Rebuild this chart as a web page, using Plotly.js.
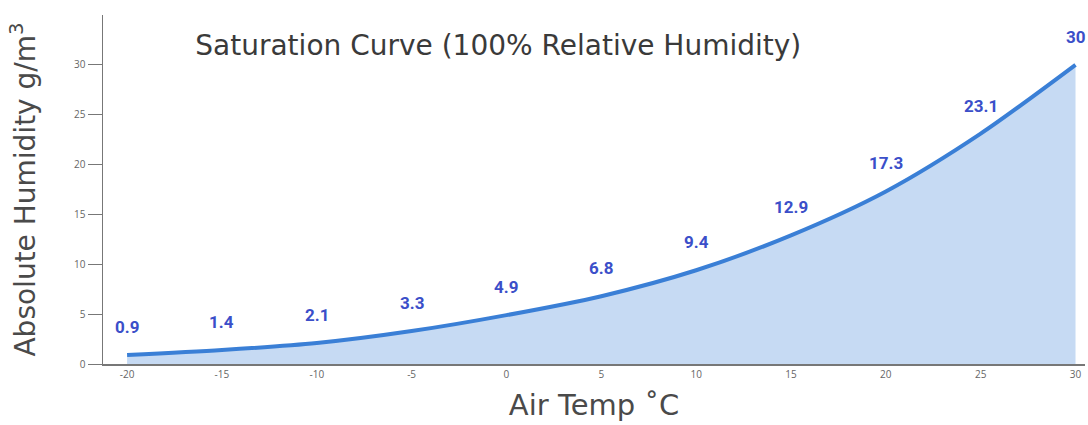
<!DOCTYPE html>
<html>
<head>
<meta charset="utf-8">
<script src="https://cdn.plot.ly/plotly-3.0.1.min.js"></script>
<style>html,body{margin:0;padding:0;background:#fff;}#chart{width:1088px;height:425px;}</style>
</head>
<body>
<div id="chart"></div>
<script>
const temps = [-20, -15, -10, -5, 0, 5, 10, 15, 20, 25, 30];
const humidity = [0.9, 1.4, 2.1, 3.3, 4.9, 6.8, 9.4, 12.9, 17.3, 23.1, 30];
const labels = ["0.9", "1.4", "2.1", "3.3", "4.9", "6.8", "9.4", "12.9", "17.3", "23.1", "30"];
const xTicks = [-20, -15, -10, -5, 0, 5, 10, 15, 20, 25, 30];
const yTicks = [0, 5, 10, 15, 20, 25, 30];

const trace = {
  x: temps,
  y: humidity,
  type: 'scatter',
  mode: 'lines',
  line: {color: '#3a7fd6', width: 4, shape: 'spline', smoothing: 0.8},
  fill: 'tozeroy',
  fillcolor: '#c6daf3',
  hoverinfo: 'x+y'
};

const annotations = temps.map((t, i) => ({
  x: t, y: humidity[i], xref: 'x', yref: 'y',
  text: '<b>' + labels[i] + '</b>', showarrow: false,
  yshift: 28, font: {family: 'Roboto, Arial, sans-serif', size: 17, color: '#3b4fc9'}
}));

const titleFont = {family: 'DejaVu Sans, sans-serif', size: 28, color: '#3a3a3a'};
const axisTitleFont = {family: 'DejaVu Sans, sans-serif', size: 28, color: '#4a4a4a'};

const layout = {
  width: 1088, height: 425,
  margin: {l: 103, r: 3, t: 15, b: 61},
  paper_bgcolor: '#fff', plot_bgcolor: '#fff',
  showlegend: false,
  title: {
    text: 'Saturation Curve (100% Relative Humidity)',
    font: titleFont,
    xref: 'paper', x: 0.094, xanchor: 'left',
    yref: 'container', y: 0.894, yanchor: 'middle'
  },
  xaxis: {
    range: [-21.27, 30.5],
    tickvals: xTicks,
    ticktext: xTicks.map(String),
    ticks: '', showgrid: false, zeroline: false,
    showline: true, linecolor: '#777', linewidth: 2,
    tickfont: {family: 'Open Sans, sans-serif', size: 10, color: '#666'},
    title: {text: 'Air Temp ˚C', font: {family: 'DejaVu Sans, sans-serif', size: 29, color: '#4a4a4a'}, standoff: 15}
  },
  yaxis: {
    range: [0, 35],
    tickvals: yTicks,
    ticktext: yTicks.map(String),
    ticks: 'outside', ticklen: 14, tickcolor: '#777', tickwidth: 1,
    showgrid: false, zeroline: false,
    showline: true, linecolor: '#777', linewidth: 1.5,
    tickfont: {family: 'Open Sans, sans-serif', size: 10, color: '#666'},
    title: {text: 'Absolute Humidity g/m<sup>3</sup>', font: axisTitleFont, standoff: 30}
  },
  annotations: annotations
};

Plotly.newPlot('chart', [trace], layout, {staticPlot: true, displayModeBar: false});
</script>
</body>
</html>
